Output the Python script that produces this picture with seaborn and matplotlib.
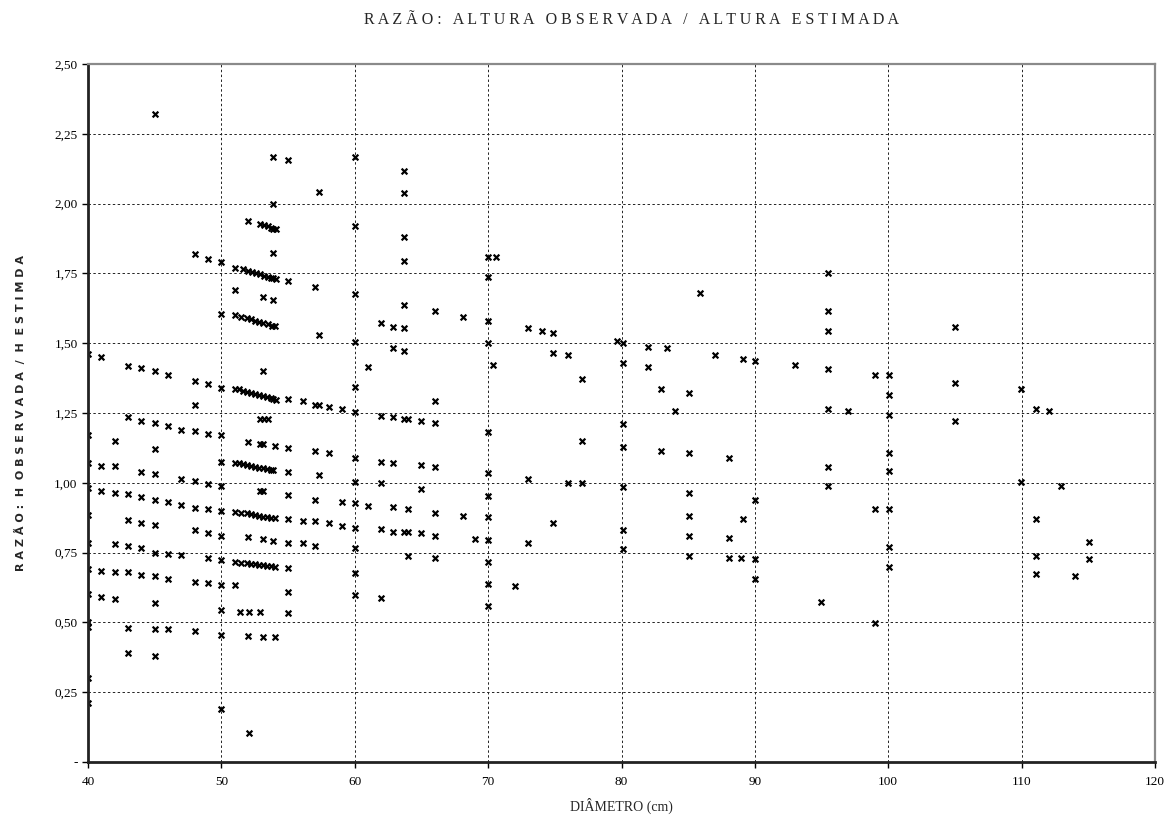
import matplotlib
matplotlib.use("Agg")
import matplotlib.pyplot as plt
import seaborn as sns
from matplotlib.ticker import FuncFormatter

# diameter (cm) and observed/estimated height ratio, read column by column
diametro = [
    40, 40, 40, 40, 40, 40, 40, 40, 40, 40, 40, 40,
    41, 41, 41, 41, 41,
    42, 42, 42, 42, 42, 42,
    43, 43, 43, 43, 43, 43, 43, 43,
    44, 44, 44, 44, 44, 44, 44,
    45, 45, 45, 45, 45, 45, 45, 45, 45, 45, 45, 45,
    46, 46, 46, 46, 46, 46,
    47, 47, 47, 47,
    48, 48, 48, 48, 48, 48, 48, 48, 48,
    49, 49, 49, 49, 49, 49, 49, 49,
    50, 50, 50, 50, 50, 50, 50, 50, 50, 50, 50, 50, 50,
    51, 51, 51, 51, 51, 51, 51, 51, 51.3, 51.3,
    52.9, 53.2, 53.5, 53.7, 53.9, 54.1,
    52.0, 53.84, 53.84, 53.84, 53.1, 53.84,
    51.6, 52.0, 52.3, 52.6, 52.9, 53.2, 53.5, 53.7, 53.9, 54.1,
    51.5, 51.9, 52.2, 52.5, 52.8, 53.1, 53.5, 53.8, 54.0,
    51.6, 51.9, 52.2, 52.5, 52.8, 53.1, 53.4, 53.7, 53.9, 54.1,
    53.1, 52.9, 53.2, 53.5, 52.0, 52.9, 53.1, 54.0,
    51.6, 51.9, 52.2, 52.5, 52.8, 53.1, 53.4, 53.7, 53.9,
    52.9, 53.1,
    51.5, 51.9, 52.2, 52.5, 52.8, 53.1, 53.4, 53.7, 54.0,
    52.0, 53.1, 53.84,
    51.5, 51.9, 52.2, 52.5, 52.8, 53.1, 53.4, 53.7, 54.0,
    51.4, 52.1, 52.9, 52.0, 53.1, 54.0, 52.1,
    55, 55, 55, 55, 55, 55, 55, 55, 55, 55, 55,
    56.1, 56.1, 56.1,
    57, 57, 57, 57, 57, 57,
    57.3, 57.3, 57.3, 57.3,
    58.07, 58.07, 58.07,
    59.07, 59.07, 59.07,
    60, 60, 60, 60, 60, 60, 60, 60, 60, 60, 60, 60, 60,
    61, 61,
    62, 62, 62, 62, 62, 62,
    62.9, 62.9, 62.9, 62.9, 62.9, 62.9,
    63.7, 63.7, 63.7, 63.7, 63.7, 63.7, 63.7, 63.7, 63.7,
    64.0, 64.0, 64.0, 64.0,
    65, 65, 65, 65,
    66, 66, 66, 66, 66, 66, 66,
    68.1, 68.1, 69,
    70, 70, 70, 70, 70, 70, 70, 70, 70, 70, 70, 70,
    70.4, 70.6, 72,
    73, 73, 73, 74.05, 74.9, 74.9, 74.9, 76, 76,
    77.06, 77.06, 77.06, 79.63,
    80.08, 80.08, 80.08, 80.08, 80.08, 80.08, 80.08,
    82, 82, 82.95, 82.95, 83.4, 84,
    85.05, 85.05, 85.05, 85.05, 85.05, 85.05, 85.9, 87,
    88.05, 88.05, 88.05, 88.95, 89.08, 89.08,
    90, 90, 90, 90, 93, 94.95,
    95.5, 95.5, 95.5, 95.5, 95.5, 95.5, 95.5, 97,
    99, 99, 99,
    100.07, 100.07, 100.07, 100.07, 100.07, 100.07, 100.07, 100.07,
    105, 105, 105, 109.94, 109.94,
    111.04, 111.04, 111.04, 111.04, 112.04, 112.94, 113.99, 115.04, 115.04,
]

razao = [
    1.46, 1.17, 1.07, 0.98, 0.885, 0.785, 0.69, 0.60, 0.50, 0.485, 0.30, 0.21,
    1.45, 1.06, 0.97, 0.685, 0.59,
    1.15, 1.06, 0.965, 0.78, 0.68, 0.585,
    1.42, 1.235, 0.96, 0.865, 0.775, 0.68, 0.48, 0.39,
    1.41, 1.22, 1.04, 0.95, 0.855, 0.765, 0.67,
    2.32, 1.40, 1.215, 1.12, 1.03, 0.94, 0.85, 0.75, 0.665, 0.57, 0.475, 0.38,
    1.385, 1.205, 0.93, 0.745, 0.655, 0.475,
    1.19, 1.015, 0.92, 0.74,
    1.82, 1.365, 1.28, 1.185, 1.005, 0.91, 0.83, 0.645, 0.47,
    1.80, 1.355, 1.175, 0.995, 0.905, 0.82, 0.73, 0.64,
    1.79, 1.605, 1.34, 1.17, 1.075, 0.99, 0.90, 0.81, 0.725, 0.635, 0.545, 0.455, 0.19,
    1.77, 1.69, 1.60, 1.335, 1.07, 0.895, 0.715, 0.635, 1.335, 1.07,
    1.927, 1.922, 1.918, 1.914, 1.91, 1.908,
    1.938, 1.998, 2.168, 1.824, 1.664, 1.655,
    1.765, 1.76, 1.755, 1.75, 1.746, 1.742, 1.738, 1.735, 1.732, 1.73,
    1.595, 1.59, 1.585, 1.58, 1.576, 1.572, 1.568, 1.563, 1.56,
    1.33, 1.326, 1.322, 1.318, 1.314, 1.31, 1.307, 1.303, 1.30, 1.298,
    1.40, 1.228, 1.228, 1.228, 1.147, 1.138, 1.138, 1.132,
    1.066, 1.063, 1.06, 1.057, 1.054, 1.052, 1.05, 1.047, 1.045,
    0.97, 0.97,
    0.892, 0.89, 0.887, 0.884, 0.881, 0.879, 0.877, 0.875, 0.873,
    0.805, 0.798, 0.793,
    0.714, 0.712, 0.71, 0.708, 0.706, 0.705, 0.703, 0.702, 0.70,
    0.538, 0.538, 0.538, 0.451, 0.447, 0.447, 0.103,
    2.156, 1.724, 1.30, 1.126, 1.039, 0.956, 0.869, 0.783, 0.696, 0.61, 0.532,
    1.294, 0.864, 0.783,
    1.70, 1.277, 1.114, 0.94, 0.864, 0.774,
    2.04, 1.529, 1.277, 1.028,
    1.27, 1.105, 0.857,
    1.264, 0.932, 0.845,
    2.168, 1.92, 1.676, 1.505, 1.342, 1.254, 1.09, 1.004, 0.926, 0.839, 0.765, 0.678, 0.598,
    1.415, 0.917,
    1.573, 1.24, 1.075, 0.998, 0.834, 0.589,
    1.559, 1.481, 1.234, 1.07, 0.912, 0.825,
    2.117, 2.039, 1.881, 1.794, 1.637, 1.553, 1.473, 1.228, 0.825,
    1.228, 0.825, 0.905, 0.739,
    1.221, 1.062, 0.976, 0.819,
    1.616, 1.294, 1.213, 1.056, 0.89, 0.81, 0.732,
    1.595, 0.882, 0.797,
    1.81, 1.736, 1.58, 1.502, 1.183, 1.034, 0.953, 0.876, 0.795, 0.717, 0.638, 0.56,
    1.422, 1.81, 0.632,
    1.553, 1.014, 0.783, 1.545, 1.535, 1.466, 0.855, 1.458, 0.998,
    1.372, 1.15, 0.998, 1.509,
    1.499, 1.428, 1.209, 1.127, 0.984, 0.831, 0.762,
    1.487, 1.415, 1.336, 1.115, 1.481, 1.257,
    1.32, 1.105, 0.962, 0.882, 0.81, 0.739, 1.681, 1.458,
    1.09, 0.803, 0.732, 0.732, 1.443, 0.869,
    1.436, 0.94, 0.726, 0.654, 1.422, 0.574,
    1.752, 1.616, 1.545, 1.408, 1.263, 1.055, 0.99, 1.257,
    1.386, 0.905, 0.497,
    1.386, 1.314, 1.243, 1.105, 1.043, 0.905, 0.769, 0.697,
    1.557, 1.356, 1.221, 1.335, 1.004,
    1.263, 0.869, 0.739, 0.675, 1.257, 0.99, 0.666, 0.789, 0.726,
]

x_ticks = [40, 50, 60, 70, 80, 90, 100, 110, 120]
y_ticks = [0, 0.25, 0.5, 0.75, 1.0, 1.25, 1.5, 1.75, 2.0, 2.25, 2.5]

sns.set_style("white")
plt.rcParams['font.family'] = ['Liberation Serif', 'DejaVu Serif']

fig = plt.figure(figsize=(11.7, 8.19), dpi=100)
ax = fig.add_axes([0.0752, 0.0696, 0.912, 0.8523])

sns.scatterplot(x=diametro, y=razao, marker='x', color='black', s=17,
                linewidth=1.6, ax=ax, legend=False)

ax.set_xlim(40, 120)
ax.set_ylim(0, 2.5)
ax.set_xticks(x_ticks)
ax.set_yticks(y_ticks)


def fmt_y(v, pos):
    if abs(v) < 1e-9:
        return '-'
    return f"{v:.2f}".replace('.', ',')


ax.yaxis.set_major_formatter(FuncFormatter(fmt_y))
ax.tick_params(axis='both', labelsize=9.5, direction='out', length=4,
               width=1, colors='black', left=True, bottom=True)
ax.tick_params(axis='x', pad=6)

ax.grid(True, color='#222222', linestyle=(0, (2.5, 2.5)), linewidth=0.7)
ax.set_axisbelow(True)

for side in ['left', 'bottom']:
    ax.spines[side].set_color('#222222')
    ax.spines[side].set_linewidth(2)
for side in ['top', 'right']:
    ax.spines[side].set_color('#8a8a8a')
    ax.spines[side].set_linewidth(1.6)

ax.set_xlabel('DIÂMETRO (cm)', fontsize=10, labelpad=7)
ax.set_ylabel('R A Z Ã O :  H  O B S E R V A D A  /  H  E S T I M D A',
              fontsize=8, fontweight='bold', family=['DejaVu Sans'],
              labelpad=20)
fig.suptitle('R A Z Ã O :   A L T U R A   O B S E R V A D A   /   '
             'A L T U R A   E S T I M A D A', x=0.54, y=0.985, fontsize=11.5)

plt.savefig('out.png', dpi=100)
